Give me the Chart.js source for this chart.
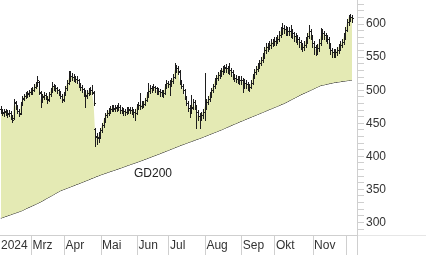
<!DOCTYPE html>
<html>
<head>
<meta charset="utf-8">
<script src="https://cdn.jsdelivr.net/npm/chart.js@4.4.1/dist/chart.umd.min.js"></script>
<style>
  html, body { margin: 0; padding: 0; background: #fff; }
  #wrap { position: relative; width: 426px; height: 255px; }
  #gdLabel {
    position: absolute; left: 134px; top: 166px;
    font: 12px 'Liberation Sans', Arial, sans-serif; color: #222;
  }
</style>
</head>
<body>
<div id="wrap">
  <canvas id="chart" width="426" height="255"></canvas>
  <div id="gdLabel">GD200</div>
</div>
<script>
// daily bars, Feb 2024 - early Dec 2024 (trading day index on the x axis)
const opens = [
  472,469,466,468,467,464,466,460,458,481,476,469,466,480,487,491,493,495,497,
  498,501,505,510,512,496,486,490,493,489,486,494,500,507,505,503,500,497,491,486,
  495,503,511,518,522,520,519,517,515,509,505,502,497,492,496,499,501,496,441,431,428,431,
  440,447,455,462,466,469,472,474,472,474,473,475,470,468,469,467,469,471,470,469,467,466,
  475,478,476,478,479,485,493,499,503,503,505,503,500,499,497,497,496,
  506,511,509,510,514,520,531,534,528,513,507,500,490,481,473,470,474,482,475,467,461,460,
  462,467,475,482,487,493,500,506,514,519,523,526,529,532,535,534,532,531,528,522,519,517,517,516,
  516,513,511,510,507,505,511,521,528,532,537,541,546,552,561,566,567,569,572,573,
  575,575,578,584,590,594,593,591,590,590,587,586,582,581,578,573,569,566,569,575,582,590,
  582,572,566,562,564,572,582,587,584,581,578,570,561,558,557,558,561,566,569,573,581,
  591,603,611,611
]
const highs = [
  476,472,471,472,470,470,468,462,486,484,478,471,482,491,494,497,499,501,503,
  505,509,513,521,514,499,494,497,496,492,497,503,513,510,508,505,502,499,494,497,
  506,515,529,529,526,524,522,521,517,511,508,504,500,500,503,505,508,499,443,436,437,443,
  450,458,465,470,473,476,478,477,478,477,480,477,474,473,472,474,475,474,474,471,471,479,
  482,496,483,484,489,497,511,508,507,509,507,505,504,502,501,500,509,
  515,514,515,518,524,541,538,536,531,515,509,502,492,483,477,493,487,485,477,470,466,
  467,471,526,486,491,497,504,510,518,523,527,530,533,536,538,539,537,541,534,530,525,523,522,521,
  521,518,517,515,512,510,515,525,532,536,541,546,551,557,565,571,572,574,577,578,
  580,580,583,589,595,602,599,597,596,595,599,592,588,586,583,580,576,572,574,580,587,599,
  593,584,574,569,570,577,594,592,590,587,583,580,572,564,562,563,566,570,574,578,586,
  596,608,614,615,614
]
const lows = [
  465,462,461,463,460,461,456,452,456,472,466,461,464,478,485,488,490,492,494,
  495,499,503,507,494,475,482,487,486,481,484,492,498,501,499,496,493,488,482,484,
  493,501,509,514,516,514,512,511,505,501,497,492,475,489,493,495,494,477,416,419,422,428,
  437,444,452,459,463,466,468,469,468,469,470,466,465,463,462,464,465,466,464,460,455,464,
  472,472,473,474,477,483,490,496,498,500,498,495,494,492,492,490,494,
  504,505,493,506,511,518,527,525,510,503,496,486,477,468,460,466,471,471,443,455,443,
  455,458,455,471,479,484,490,497,503,510,515,518,521,524,527,528,526,525,522,517,514,512,511,510,
  509,497,504,503,500,499,503,509,518,524,529,533,538,543,549,557,560,562,564,567,
  568,569,571,574,580,585,586,584,583,583,581,579,575,573,570,566,562,559,561,566,572,579,
  577,566,555,553,555,560,569,578,577,574,571,564,555,551,550,551,554,557,561,565,570,
  578,589,599,604,603
]
const closes = [
  469,467,467,467,465,466,460,455,482,476,469,464,479,488,491,493,496,497,499,
  500,505,509,515,497,485,491,493,490,485,494,500,506,506,503,500,497,491,485,494,
  503,511,518,522,520,519,517,516,509,505,502,497,493,496,499,500,497,480,430,429,431,440,
  447,455,462,466,469,472,473,473,473,473,475,470,469,469,467,469,470,470,469,467,466,475,
  478,476,478,479,485,493,499,503,503,505,503,500,499,497,497,496,506,
  511,509,511,514,520,531,534,529,513,507,500,490,481,473,470,473,482,475,467,461,460,
  462,467,475,482,487,493,500,506,514,519,523,526,529,532,534,534,532,531,528,522,519,517,517,516,
  516,513,511,510,507,505,511,521,528,532,537,541,546,552,561,566,567,569,572,573,
  575,575,578,584,590,594,593,591,590,590,587,586,582,581,578,573,569,566,569,575,582,590,
  582,572,566,562,564,572,582,587,584,581,578,570,561,558,557,558,561,566,569,573,581,
  591,603,611,611,609
]
const gd200 = [
  306.5,307.4,308.3,309.2,310.0,310.9,311.8,312.7,313.6,314.4,315.3,316.2,317.0,
  318.2,319.3,320.5,321.7,322.8,324.0,325.2,326.3,327.5,328.7,329.8,331.0,
  332.4,333.8,335.3,336.7,338.1,339.5,340.9,342.3,343.8,345.2,346.6,348.0,
  349.0,349.9,350.9,351.9,352.8,353.8,354.8,355.7,356.7,357.7,358.6,359.6,
  360.6,361.6,362.6,363.6,364.6,365.6,366.7,367.7,368.7,369.7,370.7,371.7,
  372.6,373.4,374.3,375.1,376.0,376.9,377.7,378.6,379.4,380.3,381.1,382.0,
  382.9,383.8,384.7,385.6,386.5,387.4,388.3,389.1,390.0,390.9,391.8,392.7,393.6,394.5,
  395.5,396.4,397.4,398.3,399.3,400.2,401.2,402.1,403.1,404.0,405.0,
  406,407,408,409,410,411,412,413,414,415,416,417,
  417.9,418.8,419.8,420.7,421.6,422.5,423.4,424.3,425.3,426.2,427.1,428.0,
  429,430,431,432,433,434,435,436,437,438,439,440,
  441.1,442.2,443.3,444.3,445.4,446.5,447.6,448.7,449.8,450.8,451.9,453.0,
  454.0,455.1,456.1,457.2,458.2,459.2,460.3,461.3,462.3,463.4,464.4,465.5,466.5,
  467.5,468.6,469.6,470.7,471.7,472.7,473.8,474.8,475.8,476.9,477.9,479.0,480.0,
  481.3,482.6,483.9,485.2,486.5,487.8,489.1,490.4,491.7,493.0,
  494.2,495.3,496.5,497.7,498.8,500.0,501.2,502.3,503.5,504.7,505.8,507.0,
  507.6,508.1,508.7,509.3,509.8,510.4,510.9,511.5,
  511.9,512.3,512.6,513.0,513.4,513.8,514.1,514.5,514.9,515.2,515.6
]
// month separators sit between the last day of one month and the first of the next
const monthStarts = [-0.5, 18.5, 38.5, 60.5, 82.5, 101.5, 123.5, 145.5, 165.5, 188.5, 208.5]
const monthLabels = ['2024', 'Mrz', 'Apr', 'Mai', 'Jun', 'Jul', 'Aug', 'Sep', 'Okt', 'Nov', '']

const FILL = '#E4EAB4'
const AXIS = '#cfcfcf'

Chart.defaults.font.family = "'Liberation Sans', Arial, sans-serif"
Chart.defaults.font.size = 12
Chart.defaults.color = '#333'

const ohlcBars = {
  id: 'ohlcBars',
  afterDatasetsDraw(chart) {
    const { ctx, scales: { x, y } } = chart
    ctx.save()
    ctx.strokeStyle = '#1e1e1e'
    ctx.lineWidth = 1
    ctx.beginPath()
    closes.forEach((c, i) => {
      const px = Math.round(x.getPixelForValue(i)) + 0.5
      ctx.moveTo(px, Math.round(y.getPixelForValue(highs[i])))
      ctx.lineTo(px, Math.round(y.getPixelForValue(lows[i])) + 1)
      const yo = Math.round(y.getPixelForValue(opens[i])) + 0.5
      ctx.moveTo(px - 1.5, yo)
      ctx.lineTo(px - 0.5, yo)
      const yc = Math.round(y.getPixelForValue(c)) + 0.5
      ctx.moveTo(px + 0.5, yc)
      ctx.lineTo(px + 1.5, yc)
    })
    ctx.stroke()
    ctx.restore()
  }
}

// frame lines running past the plot area into the axis margins
const frame = {
  id: 'frame',
  afterDraw(chart) {
    const { ctx, chartArea: a } = chart
    ctx.save()
    ctx.strokeStyle = '#e6e6e6'
    ctx.lineWidth = 1
    ctx.beginPath()
    ctx.moveTo(a.right, Math.round(a.bottom) + 0.5)
    ctx.lineTo(chart.width, Math.round(a.bottom) + 0.5)
    ctx.stroke()
    ctx.strokeStyle = AXIS
    ctx.beginPath()
    ctx.moveTo(Math.round(a.right) + 0.5, a.bottom)
    ctx.lineTo(Math.round(a.right) + 0.5, chart.height)
    ctx.stroke()
    ctx.restore()
  }
}

new Chart(document.getElementById('chart'), {
  type: 'line',
  data: {
    labels: closes.map((_, i) => i),
    datasets: [
      {
        label: 'Kurs',
        data: closes,
        borderWidth: 0,
        pointRadius: 0,
        fill: { target: 1, above: FILL, below: FILL },
        backgroundColor: FILL
      },
      {
        label: 'GD200',
        data: gd200,
        borderColor: '#111',
        borderWidth: 1,
        pointRadius: 0,
        fill: false
      }
    ]
  },
  options: {
    responsive: false,
    animation: false,
    events: [],
    layout: { padding: 0 },
    plugins: { legend: { display: false }, tooltip: { enabled: false } },
    scales: {
      x: {
        type: 'linear',
        min: -0.5,
        max: 215,
        afterBuildTicks: s => { s.ticks = monthStarts.map(v => ({ value: v })) },
        afterFit: s => { s.height = 20; s.paddingLeft = 0; s.paddingRight = 0 },
        grid: {
          drawOnChartArea: false,
          tickLength: 20,
          color: c => c.index === 0 ? 'rgba(0,0,0,0)' : AXIS
        },
        border: { color: AXIS },
        ticks: {
          autoSkip: false,
          maxRotation: 0,
          align: 'start',
          labelOffset: 1,
          padding: -17,
          callback: (v, i) => monthLabels[i]
        }
      },
      y: {
        position: 'right',
        min: 281,
        max: 636.5,
        afterFit: s => { s.width = 69; s.paddingTop = 0; s.paddingBottom = 0 },
        grid: { drawOnChartArea: false, tickLength: 7, color: AXIS },
        border: { color: AXIS },
        ticks: {
          stepSize: 10,
          includeBounds: false,
          autoSkip: false,
          padding: 2,
          callback: v => v % 50 === 0 ? v : ''
        }
      }
    }
  },
  plugins: [ohlcBars, frame]
})
</script>
</body>
</html>
